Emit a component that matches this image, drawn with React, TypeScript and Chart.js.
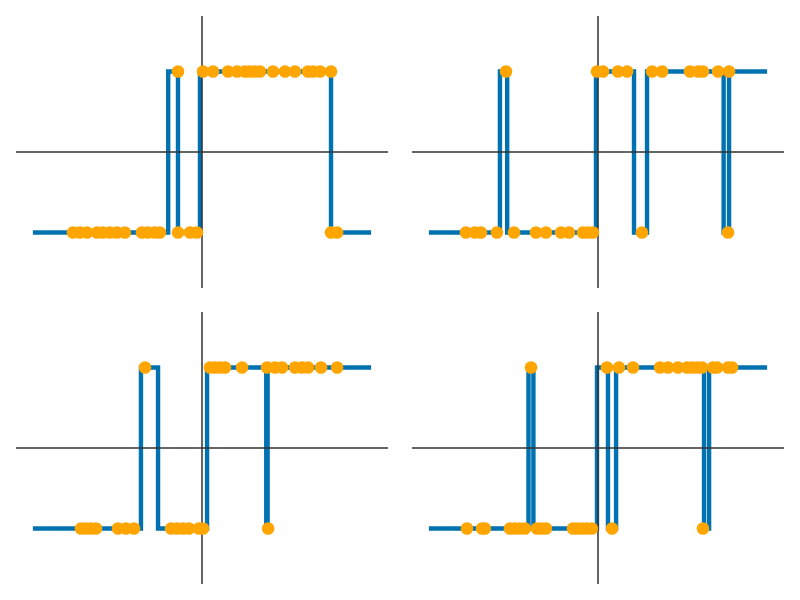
import React, { useEffect, useRef } from "react";
import { Chart, registerables } from "chart.js";

Chart.register(...registerables);

// ---- Top-left panel ----
const tlLineX = [-1.0, -0.2, -0.142, -0.012, 0.763, 1.0];
const tlLineY = [-1, 1, -1, 1, -1, -1];
const tlLowX = [-0.763, -0.722, -0.68, -0.621, -0.586, -0.544, -0.503, -0.456, -0.355, -0.32, -0.278, -0.249, -0.142, -0.071, -0.03, 0.763, 0.799];
const tlHighX = [-0.142, 0.006, 0.065, 0.154, 0.207, 0.254, 0.284, 0.314, 0.343, 0.42, 0.491, 0.55, 0.627, 0.657, 0.698, 0.763];

// ---- Top-right panel ----
const trLineX = [-1.0, -0.58, -0.537, -0.012, 0.213, 0.29, 0.743, 0.775, 1.0];
const trLineY = [-1, 1, -1, 1, -1, 1, -1, 1, 1];
const trLowX = [-0.781, -0.728, -0.692, -0.598, -0.497, -0.367, -0.308, -0.219, -0.172, -0.089, -0.059, -0.03, 0.26, 0.769];
const trHighX = [-0.544, -0.006, 0.03, 0.118, 0.172, 0.32, 0.379, 0.544, 0.592, 0.621, 0.71, 0.775];

// ---- Bottom-left panel ----
const blLineX = [-1.0, -0.361, -0.26, 0.03, 0.38, 0.388, 1.0];
const blLineY = [-1, 1, -1, 1, -1, 1, 1];
const blLowX = [-0.716, -0.686, -0.657, -0.627, -0.497, -0.45, -0.402, -0.183, -0.148, -0.112, -0.077, -0.018, 0.006, 0.391];
const blHighX = [-0.337, 0.047, 0.077, 0.107, 0.136, 0.237, 0.385, 0.432, 0.473, 0.55, 0.592, 0.627, 0.704, 0.799];

// ---- Bottom-right panel ----
const brLineX = [-1.0, -0.411, -0.382, -0.006, 0.059, 0.107, 0.627, 0.657, 1.0];
const brLineY = [-1, 1, -1, 1, -1, 1, -1, 1, 1];
const brLowX = [-0.775, -0.686, -0.669, -0.521, -0.491, -0.462, -0.432, -0.361, -0.337, -0.308, -0.148, -0.124, -0.095, -0.065, -0.036, 0.083, 0.621];
const brHighX = [-0.396, 0.053, 0.124, 0.207, 0.367, 0.414, 0.473, 0.527, 0.556, 0.586, 0.615, 0.68, 0.704, 0.769, 0.793];

const X_LIM = 1.1;
const Y_LIM = 1.69;

const crossPlugin = {
  id: "cross",
  afterDatasetDraw(chart: any, args: any) {
    if (args.index !== 1) return;
    const { ctx, chartArea, scales } = chart;
    const x0 = scales.x.getPixelForValue(0);
    const y0 = scales.y.getPixelForValue(0);
    ctx.save();
    ctx.strokeStyle = "#333333";
    ctx.lineWidth = 1.5;
    ctx.beginPath();
    ctx.moveTo(x0, chartArea.top);
    ctx.lineTo(x0, chartArea.bottom);
    ctx.moveTo(chartArea.left, y0);
    ctx.lineTo(chartArea.right, y0);
    ctx.stroke();
    ctx.restore();
  },
};

type PanelProps = {
  lineX: number[];
  lineY: number[];
  lowX: number[];
  highX: number[];
  left: number;
  top: number;
};

function Panel({ lineX, lineY, lowX, highX, left, top }: PanelProps) {
  const ref = useRef<HTMLCanvasElement | null>(null);
  useEffect(() => {
    if (!ref.current) return;
    const pts = [
      ...lowX.map((x) => ({ x, y: -1 })),
      ...highX.map((x) => ({ x, y: 1 })),
    ];
    const line = lineX.map((x, i) => ({ x, y: lineY[i] }));
    const chart = new Chart(ref.current, {
      type: "scatter",
      data: {
        datasets: [
          {
            data: pts,
            showLine: false,
            pointRadius: 6.3,
            pointBackgroundColor: "#FFA500",
            pointBorderColor: "#FFA500",
            pointBorderWidth: 0,
          } as any,
          {
            data: line,
            showLine: true,
            stepped: true,
            borderColor: "#0072B2",
            borderWidth: 4.4,
            borderCapStyle: "butt",
            borderJoinStyle: "miter",
            pointRadius: 0,
            fill: false,
          } as any,
        ],
      },
      options: {
        animation: false,
        responsive: false,
        maintainAspectRatio: false,
        devicePixelRatio: 1,
        layout: { padding: 0, autoPadding: false },
        plugins: {
          legend: { display: false },
          tooltip: { enabled: false },
        },
        scales: {
          x: { type: "linear", min: -X_LIM, max: X_LIM, display: false },
          y: { type: "linear", min: -Y_LIM, max: Y_LIM, display: false },
        },
      } as any,
      plugins: [crossPlugin],
    });
    return () => chart.destroy();
  }, []);
  return (
    <canvas
      ref={ref}
      width={372}
      height={272}
      style={{ position: "absolute", left, top, width: 372, height: 272 }}
    />
  );
}

export default function App() {
  return (
    <div
      style={{
        position: "absolute",
        left: 0,
        top: 0,
        width: 800,
        height: 600,
        background: "#ffffff",
      }}
    >
      <Panel lineX={tlLineX} lineY={tlLineY} lowX={tlLowX} highX={tlHighX} left={16} top={16} />
      <Panel lineX={trLineX} lineY={trLineY} lowX={trLowX} highX={trHighX} left={412} top={16} />
      <Panel lineX={blLineX} lineY={blLineY} lowX={blLowX} highX={blHighX} left={16} top={312} />
      <Panel lineX={brLineX} lineY={brLineY} lowX={brLowX} highX={brHighX} left={412} top={312} />
    </div>
  );
}
